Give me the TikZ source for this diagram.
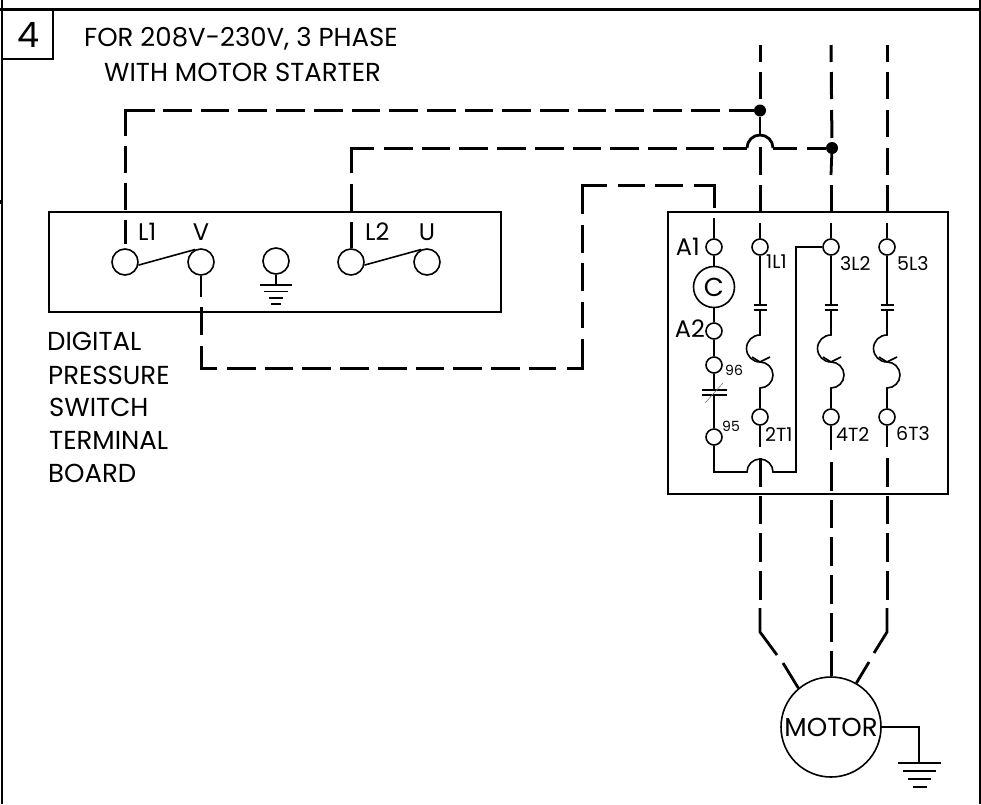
\documentclass[tikz,border=0pt]{standalone}
\usepackage{fontspec}
\setmainfont{Poppins}
\usetikzlibrary{calc}
\tikzset{
 wire/.style={line width=1.6pt},
 bus/.style={line width=2.8pt},
 dsh/.style={line width=3pt,dash pattern=on 28.7pt off 9pt},
 boxline/.style={line width=2pt},
 term/.style={circle,draw,line width=1.6pt,minimum size=26pt,inner sep=0pt,fill=white},
 sterm/.style={circle,draw,line width=1.6pt,minimum size=16pt,inner sep=0pt,fill=white},
 lbl/.style={inner sep=0pt,font=\fontsize{24}{24}\selectfont},
 slbl/.style={inner sep=0pt,font=\fontsize{19}{19}\selectfont},
 tlbl/.style={inner sep=0pt,font=\fontsize{14}{14}\selectfont},
 ttl/.style={inner sep=0pt,font=\fontsize{26}{26}\selectfont},
 dotn/.style={circle,fill=black,minimum size=12pt,inner sep=0pt},
}
\begin{document}
\begin{tikzpicture}[x=1pt,y=-1pt]
\useasboundingbox (0,0) rectangle (981,804);
% frame
\draw[line width=3pt] (0,9) -- (981,9);
\draw[line width=2pt] (2,0) -- (2,804);
\draw[line width=1.6pt] (980,0) -- (980,804);
\fill (0,200) rectangle (3,204);
\draw[line width=2pt] (2,59) -- (53,59) -- (53,9);
\node[inner sep=0pt,font=\fontsize{35}{35}\selectfont] (num) at (29,35) {4};
\node[ttl,anchor=west] (t1) at (84,39) {FOR 208V-230V, 3 PHASE};
\node[ttl,anchor=west] (t2) at (104,72) {WITH MOTOR STARTER};
% boxes
\node[draw,boxline,minimum width=452pt,minimum height=100pt,inner sep=0pt] (board) at (275,261.5) {};
\node[draw,boxline,minimum width=280pt,minimum height=282pt,inner sep=0pt] (starter) at (808,353) {};
% board terminals
\node[term] (L1) at (125,262) {};
\node[term] (V) at (201,262) {};
\node[term] (G) at (276,261) {};
\node[term] (L2) at (351,262) {};
\node[term] (U) at (427,262) {};
\draw[wire] (L1.347) -- (V.115);
\draw[wire] (L2.347) -- (U.115);
\node[lbl,anchor=west] (tL1) at (138,232) {L1};
\node[lbl] (tV) at (201,232) {V};
\node[lbl,anchor=west] (tL2) at (365,232) {L2};
\node[lbl] (tU) at (427,232) {U};
% board ground
\coordinate (g0) at (276,285);
\draw[wire] (G) -- (g0);
\draw[wire] (260,285) -- (292,285) (264,291.5) -- (288,291.5) (269,298) -- (283,298) (271,304) -- (281,304);
% board text
\foreach \n/\t/\y/\x in {a/DIGITAL/341/47,b/PRESSURE/375/48,c/SWITCH/407/49,d/TERMINAL/440/49,e/BOARD/473/48}
 \node[ttl,anchor=west] (d\n) at (\x,\y) {\t};
% dots
\node[dotn] (d1) at (760,110.5) {};
\node[dotn] (d2) at (832,148) {};
% starter terminals
\node[sterm] (A1) at (714,247) {};
\node[circle,draw,line width=1.6pt,minimum size=41pt,inner sep=0pt,font=\fontsize{26}{26}\selectfont] (C) at (714,287) {C};
\node[sterm] (A2) at (714,331) {};
\node[sterm] (n96) at (714,365) {};
\node[sterm] (n95) at (714,437) {};
\node[sterm] (T1L) at (760,247) {};
\node[sterm] (T3L) at (831,247) {};
\node[sterm] (T5L) at (887,247) {};
\node[sterm] (T2T) at (760,417) {};
\node[sterm] (T4T) at (831,417) {};
\node[sterm] (T6T) at (887,417) {};
\node[lbl,anchor=east] (tA1) at (700,247) {A1};
\node[lbl,anchor=east] (tA2) at (705,329) {A2};
\node[tlbl,anchor=west] (t96) at (725,370) {96};
\node[tlbl,anchor=west] (t95) at (722,426) {95};
\node[slbl,anchor=west] (t1L1) at (766,262) {1L1};
\node[slbl,anchor=west] (t3L2) at (840,264) {3L2};
\node[slbl,anchor=west] (t5L3) at (897,264) {5L3};
\node[slbl,anchor=west] (t2T1) at (765,434) {2T1};
\node[slbl,anchor=west] (t4T2) at (836,434) {4T2};
\node[slbl,anchor=west] (t6T3) at (896,434) {6T3};
% left column
\draw[wire] (A1) -- (C);
\draw[wire] (C) -- (A2);
\draw[wire] (A2) -- (n96);
\draw[wire] (n96) -- (714,390);
\draw[line width=2pt] (702,390) -- (727,390) (702,395) -- (727,395);
\draw[wire] (714,395) -- (n95);
\draw[gray,line width=.6pt] (705,403) -- (723,383);
% bottom jog
\draw[wire] (n95) -- (714,472) -- (747,472) arc[start angle=180,end angle=360,radius=13] -- (796,472) -- (796,247) -- (T3L);
% pole contacts and overloads
\foreach \x/\a/\b in {760/T1L/T2T,831/T3L/T4T,887/T5L/T6T}{
 \draw[wire] (\a) -- (\x,305);
 \draw[line width=2pt] (\x-6.5,305) -- (\x+6.5,305) (\x-6.5,310) -- (\x+6.5,310);
 \draw[wire] (\x,310) -- (\x,335) arc[start angle=270,end angle=90,radius=13.5] -- (\x+10,357);
 \draw[wire] (\x-8,357) -- (\x,362) arc[start angle=270,end angle=450,radius=13] -- (\b);
}
% dashed power lines
\coordinate (s1) at (125,244);
\coordinate (s1b) at (155,110.5);
\coordinate (s1c) at (163,110.5);
\draw[line width=3pt,dash pattern=on 24pt off 10pt on 27pt off 10pt on 27pt off 10pt on 60pt off 9pt] (s1) -- (125,110.5) -- (s1b);
\draw[dsh] (s1c) -- (d1);
\coordinate (s2b) at (374,148);
\coordinate (s2c) at (384,148);
\draw[line width=3pt,dash pattern=on 26pt off 11pt on 27pt off 11pt on 50pt off 9pt] (L2.north) -- (351,148) -- (s2b);
\draw[dsh] (s2c) -- (747,148);
\draw[bus] (747,148) arc[start angle=180,end angle=360,radius=13];
\draw[line width=3pt,dash pattern=on 24pt off 10pt on 30pt off 9pt] (773,148) -- (d2);
\draw[bus] (V.south) -- (201,297);
\coordinate (s3a) at (201,307);
\coordinate (s3b) at (217,368.5);
\coordinate (s3c) at (227,368.5);
\coordinate (s3d) at (556,368.5);
\coordinate (s3e) at (567,368.5);
\draw[line width=3pt,dash pattern=on 28pt off 11pt on 38pt off 9pt] (s3a) -- (201,368.5) -- (s3b);
\draw[dsh] (s3c) -- (s3d);
\draw[line width=3pt,dash pattern=on 45pt off 11pt on 26pt off 11pt on 28pt off 10pt on 28pt off 11pt on 53pt off 11pt on 27pt off 10pt on 28pt off 11pt on 45pt off 50pt] (s3e) -- (582,368.5) -- (582,185) -- (714,185) -- (714,208);
\draw[bus] (714,218) -- (A1);
% columns
\draw[line width=3pt,dash pattern=on 17pt off 10pt on 27pt off 11pt on 30pt off 9pt] (760,45) -- (d1);
\draw[bus] (d1) -- (760,136);
\draw[line width=3pt,dash pattern=on 28pt off 10pt on 27pt off 50pt] (760,147) -- (760,212);
\draw[line width=3pt,dash pattern=on 17pt off 10pt on 27pt off 11pt on 28pt off 50pt] (831,45) -- (d2);
\draw[bus] (d2) -- (831,175);
\draw[line width=3pt,dash pattern=on 27pt off 50pt] (831,185) -- (831,212);
\draw[line width=3pt,dash pattern=on 17pt off 10pt on 27pt off 11pt on 27pt off 11pt on 27pt off 10pt on 27pt off 50pt] (887,45) -- (887,212);
\foreach \a/\x in {T1L/760,T3L/831,T5L/887}
 \draw[bus] (\x,223) -- (\a);
\draw[bus] (T2T) -- (760,447);
\draw[bus] (T4T) -- (831,450);
\draw[bus] (T6T) -- (887,447);
% below the starter
\node[circle,draw,line width=1.6pt,minimum size=100pt,inner sep=0pt,font=\fontsize{26}{26}\selectfont] (M) at (831,727) {MOTOR};
\draw[dsh] (760,458) -- (760,600);
\draw[dsh] (887,458) -- (887,600);
\draw[bus] (760,608) -- (760,632) -- (777,655);
\draw[bus] (783,663) -- (M.130);
\draw[dsh] (831,462) -- (M.north);
\draw[bus] (887,608) -- (887,632) -- (874,653);
\draw[bus] (869,662) -- (M.60);
% motor ground
\draw[wire] (M.east) -- (919,727) -- (919,763);
\draw[line width=2pt] (898,763) -- (941,763) (903,771) -- (936,771) (908,779) -- (931,779) (913,787) -- (927,787);
\end{tikzpicture}
\end{document}
